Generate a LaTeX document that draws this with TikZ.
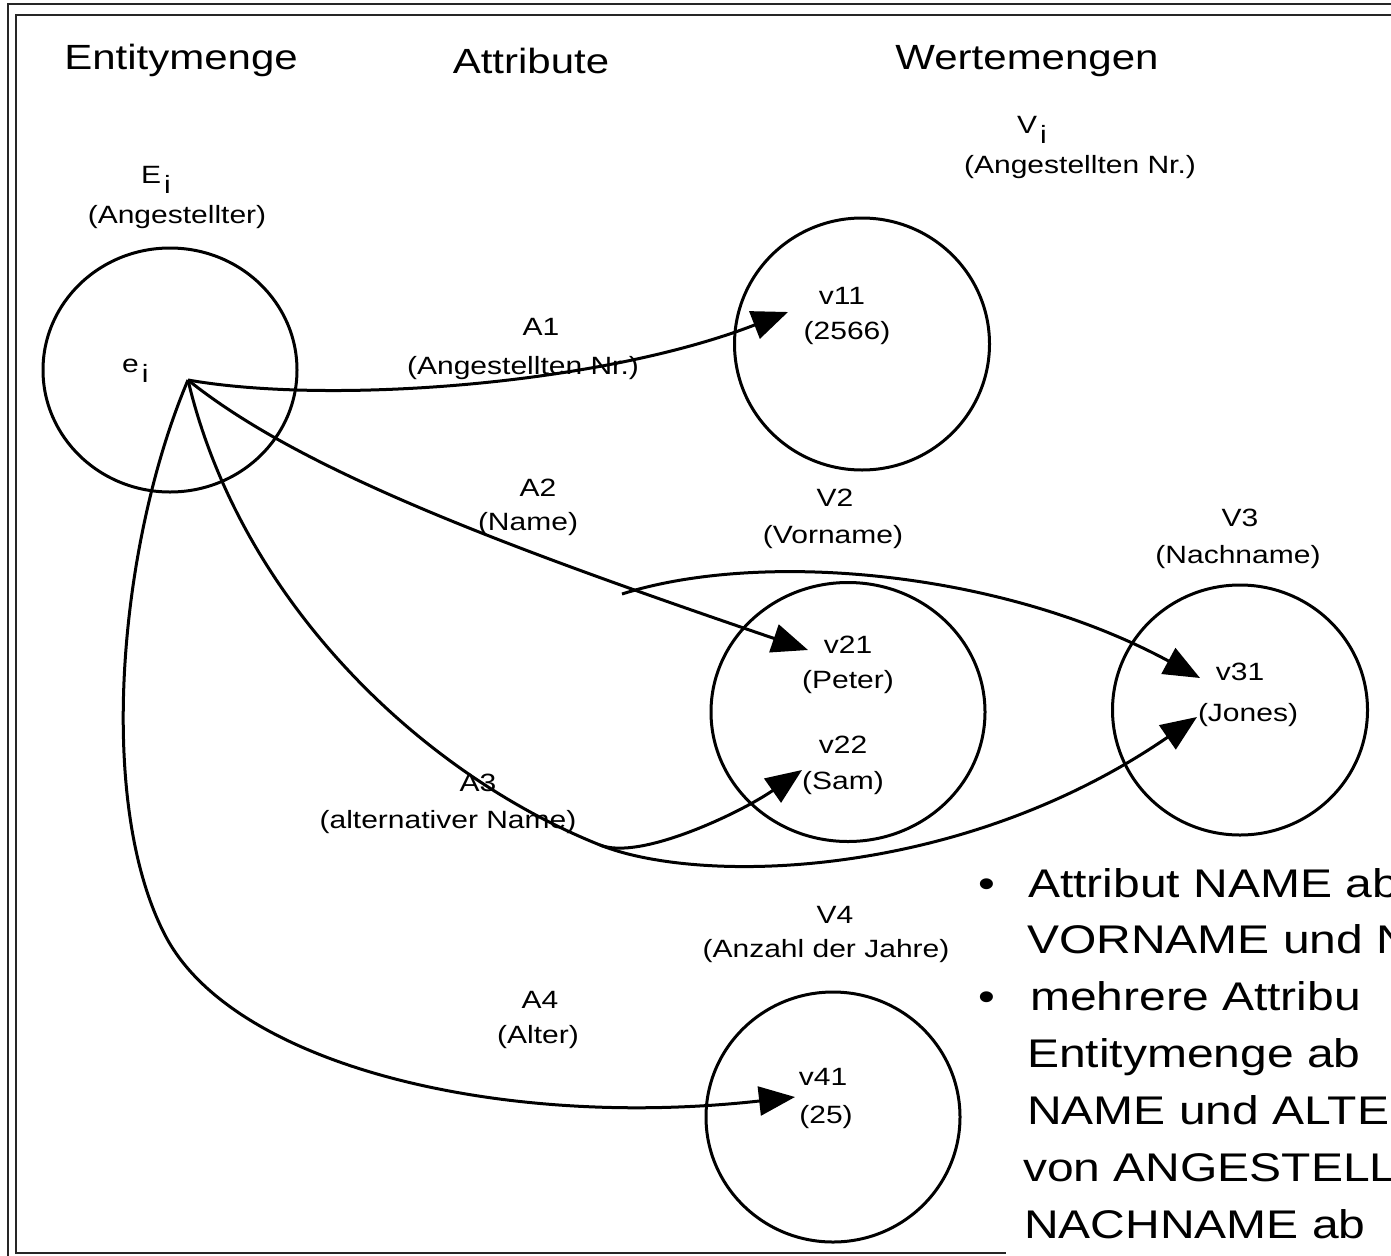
\documentclass[tikz,border=0pt]{standalone}
\usepackage{fontspec}
\usepackage{graphicx}
\setmainfont[FakeStretch=1.2]{Liberation Sans}
\usetikzlibrary{arrows.meta,shapes.geometric}

% lowered index letter, as in E_i, e_i, V_i
\newcommand\lowi{\kern3pt\raisebox{-10pt}{i}}

\begin{document}
\begin{tikzpicture}[x=1pt,y=-1pt,
  head/.style={font=\fontsize{35}{40}\selectfont, inner sep=0},
  lbl/.style={font=\fontsize{25}{30}\selectfont, inner sep=0},
  slide/.style={font=\fontsize{40}{48}\selectfont, inner sep=0, anchor=base west},
  ring/.style={draw, ellipse, line width=3pt, inner sep=0},
  frameline/.style={draw=black!85, line width=2pt},
  link/.style={line width=3pt},
  arr/.style={link, -{Triangle[length=36pt,width=29pt]}}]

\clip (0,0) rectangle (1391,1255);
\fill[white] (0,0) rectangle (1391,1255);

% double frame of the slide
\draw[frameline] (7.5,1300) -- (7.5,4.5) -- (1450,4.5);
\draw[frameline] (16,1253) rectangle (1450,15);

% white panel carrying the bullet text
\fill[white] (1006,850) rectangle (1400,1260);

% column headings
\node[head] (hE) at (181,60) {Entitymenge};
\node[head] (hA) at (531,61) {Attribute};
\node[head] (hW) at (1027,61) {Wertemengen};

% entity set
\node[lbl, anchor=base west] (lEi) at (141,183) {E\lowi};
\node[lbl] (lE) at (177,217) {(Angestellter)};
\node[ring, minimum width=254pt, minimum height=244pt] (E) at (170,370) {};
\node[lbl, anchor=base west] (lei) at (122,372) {e\lowi};
\coordinate (ei) at (188,380);

% value set V_i
\node[lbl, anchor=base west] (lVi) at (1017,133) {V\lowi};
\node[lbl] (lV1) at (1080,167) {(Angestellten Nr.)};
\node[ring, minimum width=255pt, minimum height=252pt] (V1) at (862,344) {};
\node[lbl] (v11) at (842,296) {v11};
\node[lbl] (v11b) at (847,333) {(2566)};
\coordinate (t11) at (788,312);

% value set V2
\node[lbl] (lV2) at (835,498) {V2};
\node[lbl] (lV2b) at (833,537) {(Vorname)};
\node[ring, minimum width=274pt, minimum height=259pt] (V2) at (848,712) {};
\node[lbl] (v21) at (848,645) {v21};
\node[lbl] (v21b) at (848,682) {(Peter)};
\node[lbl] (v22) at (843,745) {v22};
\node[lbl] (v22b) at (843,783) {(Sam)};
\coordinate (t21) at (808,650);
\coordinate (t22) at (802,770);

% value set V3
\node[lbl] (lV3) at (1240,518) {V3};
\node[lbl] (lV3b) at (1238,557) {(Nachname)};
\node[ring, minimum width=255pt, minimum height=250pt] (V3) at (1240,710) {};
\node[lbl] (v31) at (1240,672) {v31};
\node[lbl] (v31b) at (1248,715) {(Jones)};
\coordinate (t31a) at (1200,678);
\coordinate (t31b) at (1197,717);

% value set V4
\node[lbl] (lV4) at (835,915) {V4};
\node[lbl] (lV4b) at (826,951) {(Anzahl der Jahre)};
\node[ring, minimum width=254pt, minimum height=250pt] (V4) at (833,1117) {};
\node[lbl] (v41) at (823,1077) {v41};
\node[lbl] (v41b) at (826,1117) {(25)};
\coordinate (t41) at (795,1097);

% attribute labels
\node[lbl] (a1) at (541,327) {A1};
\node[lbl] (a1b) at (523,368) {(Angestellten Nr.)};
\node[lbl] (a2) at (538,488) {A2};
\node[lbl] (a2b) at (528,524) {(Name)};
\node[lbl] (a3) at (478,783) {A3};
\node[lbl] (a3b) at (448,822) {(alternativer Name)};
\node[lbl] (a4) at (540,1000) {A4};
\node[lbl] (a4b) at (538,1037) {(Alter)};

% attribute mappings
\coordinate (nb) at (622,594);
\coordinate (s3) at (600,845);
\coordinate (c4) at (165,935);

\draw[arr] (ei) .. controls (330,405) and (600,385) .. (t11);
\draw[arr] (ei) .. controls (300,470) and (500,545) .. (t21);
\draw[arr] (nb) .. controls (760,550) and (1000,570) .. (t31a);
\draw[link] (ei) .. controls (240,600) and (420,773) .. (s3);
\draw[arr] (s3) .. controls (640,861) and (742,812) .. (t22);
\draw[arr] (s3) .. controls (700,885) and (960,880) .. (t31b);
\draw[arr] (ei) .. controls (120,540) and (95,800) .. (c4)
               .. controls (232,1065) and (500,1130) .. (t41);

% bullet text
\node[slide] (b1) at (978,897) {•};
\node[slide] (l1) at (1028,897) {Attribut NAME ab};
\node[slide] (l2) at (1027,953) {VORNAME und N};
\node[slide] (b2) at (978,1010) {•};
\node[slide] (l3) at (1030,1010) {mehrere Attribu};
\node[slide] (l4) at (1027,1067) {Entitymenge ab};
\node[slide] (l5) at (1027,1124) {NAME und ALTE};
\node[slide] (l6) at (1023,1181) {von ANGESTELL};
\node[slide] (l7) at (1024,1238) {NACHNAME ab};
\end{tikzpicture}
\end{document}
